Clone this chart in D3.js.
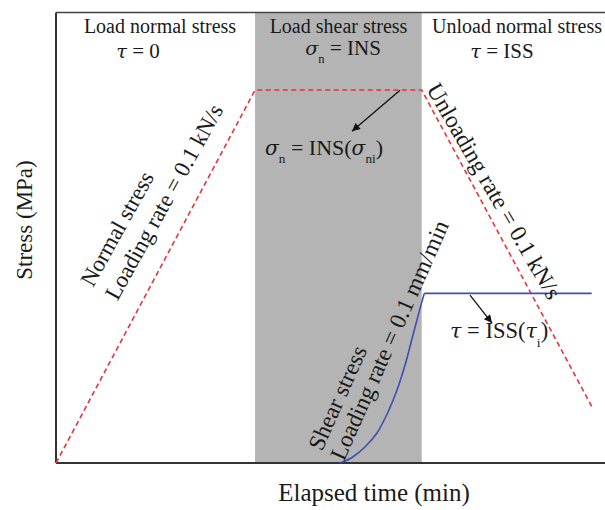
<!DOCTYPE html>
<html>
<head>
<meta charset="utf-8">
<script src="https://cdn.jsdelivr.net/npm/d3@7"></script>
<style>
  body { margin: 0; background: #fff; }
  svg { display: block; }
  text { font-family: "Liberation Serif", "Times New Roman", serif; fill: #1a1a1a; }
  .greek { font-family: "DejaVu Serif", serif; font-style: italic; }
</style>
</head>
<body>
<svg width="605" height="510"></svg>
<script>
// test stages (x in arbitrary time units, y in arbitrary stress units)
const phaseNames = ['Load normal stress', 'Load shear stress', 'Unload normal stress'];
const phaseEdges = [0, 31.3, 57.5, 100];

// normal stress path (red dashed)
const normalTime = [0, 31.3, 57.5, 84.3];
const normalStress = [0, 82.8, 82.8, 12.4];

// shear stress path (blue)
const shearTime = [44.65, 46.54, 48.58, 50.47, 52.2, 53.62, 54.87, 56.13, 57.08, 57.91];
const shearStress = [0, 1.22, 3.55, 6.66, 11.3, 16.2, 21.7, 28.4, 33.5, 37.65];
const plateauTime = [57.91, 84.23];
const plateauStress = [37.65, 37.65];

// arrows [fromX, fromY, toX, toY]
const arrowINS = [54.09, 82.76, 46.54, 73.66];
const arrowISS = [65.09, 37.28, 68.55, 31.06];

const svg = d3.select('svg');

const x = d3.scaleLinear().domain([0, 100]).range([56, 692]);
const y = d3.scaleLinear().domain([0, 100]).range([463, 12.5]);

const defs = svg.append('defs');
defs.append('marker')
  .attr('id', 'arr')
  .attr('viewBox', '0 0 10 10')
  .attr('refX', 10).attr('refY', 5)
  .attr('markerWidth', 10).attr('markerHeight', 8)
  .attr('markerUnits', 'userSpaceOnUse')
  .attr('orient', 'auto')
  .append('path')
  .attr('d', 'M0,0 L10,5 L0,10 z')
  .attr('fill', '#111');

// gray band for shear stage
svg.append('rect')
  .attr('x', x(phaseEdges[1]))
  .attr('y', y(100))
  .attr('width', x(phaseEdges[2]) - x(phaseEdges[1]))
  .attr('height', y(0) - y(100))
  .attr('fill', '#b3b4b3');

// frame
svg.append('line')
  .attr('x1', x(0)).attr('x2', x(100))
  .attr('y1', y(100)).attr('y2', y(100))
  .attr('stroke', '#444').attr('stroke-width', 1.5);
svg.append('line')
  .attr('x1', x(0)).attr('x2', x(0))
  .attr('y1', y(100)).attr('y2', y(0))
  .attr('stroke', '#333').attr('stroke-width', 2);
svg.append('line')
  .attr('x1', x(0)).attr('x2', x(100))
  .attr('y1', y(0)).attr('y2', y(0))
  .attr('stroke', '#333').attr('stroke-width', 2);

// normal stress path
const line = d3.line().x(d => x(d[0])).y(d => y(d[1]));
svg.append('path')
  .datum(d3.zip(normalTime, normalStress))
  .attr('d', line)
  .attr('fill', 'none')
  .attr('stroke', '#ef2f3a')
  .attr('stroke-width', 1.6)
  .attr('stroke-dasharray', '5,3.5');

// shear stress path
const curve = d3.line().x(d => x(d[0])).y(d => y(d[1])).curve(d3.curveCatmullRom);
svg.append('path')
  .datum(d3.zip(shearTime, shearStress))
  .attr('d', curve)
  .attr('fill', 'none')
  .attr('stroke', '#3c4fb4')
  .attr('stroke-width', 1.6);
svg.append('path')
  .datum(d3.zip(plateauTime, plateauStress))
  .attr('d', line)
  .attr('fill', 'none')
  .attr('stroke', '#3c4fb4')
  .attr('stroke-width', 1.6);

// arrows
[arrowINS, arrowISS].forEach(a => {
  svg.append('line')
    .attr('x1', x(a[0])).attr('y1', y(a[1]))
    .attr('x2', x(a[2])).attr('y2', y(a[3]))
    .attr('stroke', '#111').attr('stroke-width', 1.3)
    .attr('marker-end', 'url(#arr)');
});

// text with italic greek and subscripts
function rich(sel, parts, size) {
  let shift = 0;
  parts.forEach(p => {
    const ts = sel.append('tspan').text(p.t);
    if (p.i) ts.attr('class', 'greek').attr('font-size', size * 0.92);
    const want = p.sub ? size * 0.38 : 0;
    if (want !== shift) { ts.attr('dy', want - shift); shift = want; }
    if (p.sub) ts.attr('font-size', size * 0.6);
  });
}

// phase titles
const titleX = [160, 338.5, 517];
phaseNames.forEach((n, i) => {
  svg.append('text')
    .attr('x', titleX[i]).attr('y', 33)
    .attr('text-anchor', 'middle')
    .attr('font-size', 20)
    .text(n);
});

rich(svg.append('text').attr('x', 138).attr('y', 58).attr('text-anchor', 'middle').attr('font-size', 21),
  [{t: 'τ', i: true}, {t: ' = 0'}], 21);
rich(svg.append('text').attr('x', 343).attr('y', 55).attr('text-anchor', 'middle').attr('font-size', 21),
  [{t: 'σ', i: true}, {t: 'n', sub: true}, {t: ' = INS'}], 21);
rich(svg.append('text').attr('x', 502).attr('y', 58).attr('text-anchor', 'middle').attr('font-size', 21),
  [{t: 'τ', i: true}, {t: ' = ISS'}], 21);

rich(svg.append('text').attr('x', 265).attr('y', 155).attr('font-size', 22),
  [{t: 'σ', i: true}, {t: 'n', sub: true}, {t: ' = INS('}, {t: 'σ', i: true}, {t: 'ni', sub: true}, {t: ')'}], 22);
rich(svg.append('text').attr('x', 450).attr('y', 338).attr('font-size', 22.5),
  [{t: 'τ', i: true}, {t: ' = ISS('}, {t: 'τ', i: true}, {t: 'i', sub: true}, {t: ')'}], 22.5);

// rotated annotations
function block(px, py, angle, lines, lh, size) {
  const t = svg.append('text')
    .attr('transform', `translate(${px},${py}) rotate(${angle})`)
    .attr('font-size', size);
  lines.forEach((s, i) => {
    t.append('tspan').attr('x', 0).attr('dy', i === 0 ? 0 : lh).text(s);
  });
}
block(93, 288, -61, ['Normal stress', 'Loading rate = 0.1 kN/s'], 28, 23);
block(322, 452, -66, ['Shear stress', 'Loading rate = 0.1 mm/min'], 24, 23.5);
block(426, 89, 60, ['Unloading rate = 0.1 kN/s'], 0, 23.5);

// axis titles
svg.append('text')
  .attr('transform', 'translate(32,220) rotate(-90)')
  .attr('text-anchor', 'middle')
  .attr('font-size', 23)
  .text('Stress (MPa)');
svg.append('text')
  .attr('x', 374).attr('y', 501)
  .attr('text-anchor', 'middle')
  .attr('font-size', 25)
  .text('Elapsed time (min)');
</script>
</body>
</html>
